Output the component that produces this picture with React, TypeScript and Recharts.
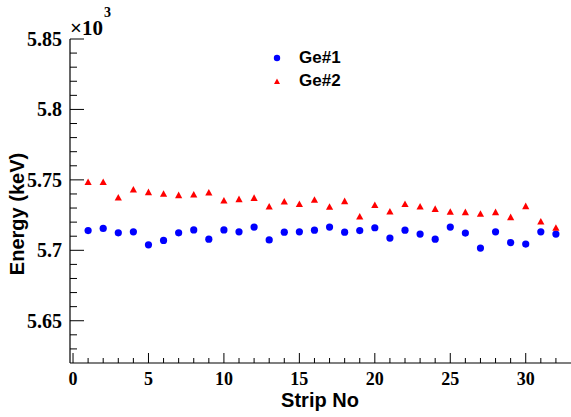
import React from "react";
import { ScatterChart, Scatter, XAxis, YAxis } from "recharts";

const strips = [1,2,3,4,5,6,7,8,9,10,11,12,13,14,15,16,17,18,19,20,21,22,23,24,25,26,27,28,29,30,31,32];
const ge1 = [5.714,5.7155,5.7124,5.7131,5.7039,5.707,5.7124,5.7145,5.7079,5.7145,5.7131,5.7165,5.7074,5.7129,5.7131,5.7143,5.7165,5.7129,5.714,5.716,5.7087,5.7143,5.7115,5.7079,5.7165,5.7122,5.7016,5.7131,5.7055,5.7044,5.7131,5.7115];
const ge2 = [5.7484,5.7484,5.7374,5.7431,5.7413,5.7401,5.7391,5.7396,5.741,5.7353,5.7363,5.7372,5.7311,5.7346,5.7328,5.7358,5.7309,5.7349,5.724,5.7321,5.7275,5.7328,5.7311,5.7294,5.7273,5.7271,5.7259,5.7271,5.7235,5.7313,5.7204,5.716];
const seriesNames = ["Ge#1", "Ge#2"];

const xTicks = [0,1,2,3,4,5,6,7,8,9,10,11,12,13,14,15,16,17,18,19,20,21,22,23,24,25,26,27,28,29,30,31,32];
const xMajor = [0,5,10,15,20,25,30];
const yTicks = [5.63,5.64,5.65,5.66,5.67,5.68,5.69,5.7,5.71,5.72,5.73,5.74,5.75,5.76,5.77,5.78,5.79,5.8,5.81,5.82,5.83,5.84,5.85];
const yMajorLabels: Record<string, string> = { "5.65": "5.65", "5.7": "5.7", "5.75": "5.75", "5.8": "5.8", "5.85": "5.85" };

const data1 = strips.map((s, i) => ({ x: s, y: ge1[i] }));
const data2 = strips.map((s, i) => ({ x: s, y: ge2[i] }));

const serif = "'Liberation Serif', 'Times New Roman', serif";
const sans = "'Liberation Sans', Arial, sans-serif";

const YTick = (props: any) => {
  const { x, y, payload } = props;
  const key = String(Math.round(payload.value * 100) / 100);
  const label = yMajorLabels[key];
  const ax = x + 8;
  return (
    <g>
      <line x1={ax} x2={ax + (label ? 14 : 7)} y1={y} y2={y} stroke="#000" strokeWidth={1} />
      {label && (
        <text x={x} y={y} textAnchor="end" dominantBaseline="central" fontFamily={serif} fontWeight="bold" fontSize={20} fill="#000">
          {label}
        </text>
      )}
    </g>
  );
};

const XTick = (props: any) => {
  const { x, y, payload } = props;
  const major = xMajor.includes(payload.value);
  return (
    <g>
      <line x1={x} x2={x} y1={y} y2={y - (major ? 10 : 5)} stroke="#000" strokeWidth={1} />
      {major && (
        <text x={x} y={y + 22} textAnchor="middle" fontFamily={serif} fontWeight="bold" fontSize={18} fill="#000">
          {payload.value}
        </text>
      )}
    </g>
  );
};

const circleShape = (p: any) => <circle cx={p.cx} cy={p.cy} r={3.6} fill="#0000ff" />;
const triShape = (p: any) => (
  <polygon points={`${p.cx - 3.6},${p.cy + 3} ${p.cx + 3.6},${p.cy + 3} ${p.cx},${p.cy - 3.6}`} fill="#ff0000" />
);

export default function App() {
  return (
    <div style={{ position: "absolute", left: 0, top: 0, width: 571, height: 417, background: "#fff" }}>
      <ScatterChart width={571} height={417} margin={{ top: 39, right: 0, left: 0, bottom: 0 }}>
        <XAxis
          dataKey="x"
          type="number"
          domain={[-0.2, 33]}
          ticks={xTicks}
          interval={0}
          allowDataOverflow
          height={54}
          tickLine={false}
          tickSize={0}
          tickMargin={0}
          tick={<XTick />}
          axisLine={{ stroke: "#000", strokeWidth: 1.2 }}
        />
        <XAxis
          xAxisId="top"
          orientation="top"
          dataKey="x"
          type="number"
          domain={[-0.2, 33]}
          height={0}
          tick={false}
          tickLine={false}
          axisLine={{ stroke: "#000", strokeWidth: 1.2 }}
        />
        <YAxis
          dataKey="y"
          type="number"
          domain={[5.62, 5.85]}
          ticks={yTicks}
          interval={0}
          allowDataOverflow
          width={70}
          tickLine={false}
          tickSize={0}
          tickMargin={8}
          tick={<YTick />}
          axisLine={{ stroke: "#000", strokeWidth: 1.2 }}
        />
        <Scatter name={seriesNames[0]} data={data1} shape={circleShape} isAnimationActive={false} />
        <Scatter name={seriesNames[1]} data={data2} shape={triShape} isAnimationActive={false} />
      </ScatterChart>
      <svg width={571} height={417} style={{ position: "absolute", left: 0, top: 0, pointerEvents: "none" }}>
        <text x={70} y={35} fontFamily={serif} fontWeight="bold" fontSize={21} fill="#000">×10</text>
        <text x={104} y={17} fontFamily={serif} fontWeight="bold" fontSize={14} fill="#000">3</text>
        <circle cx={277} cy={58} r={3.2} fill="#0000ff" />
        <text x={299} y={63} fontFamily={sans} fontWeight="bold" fontSize={17} fill="#000">{seriesNames[0]}</text>
        <polygon points="274,84 280,84 277,78.5" fill="#ff0000" />
        <text x={299} y={85.5} fontFamily={sans} fontWeight="bold" fontSize={17} fill="#000">{seriesNames[1]}</text>
        <text x={320} y={407} textAnchor="middle" fontFamily={sans} fontWeight="bold" fontSize={20} fill="#000">Strip No</text>
        <text x={0} y={0} transform="translate(24,214) rotate(-90)" textAnchor="middle" fontFamily={sans} fontWeight="bold" fontSize={20} fill="#000">Energy (keV)</text>
      </svg>
    </div>
  );
}
